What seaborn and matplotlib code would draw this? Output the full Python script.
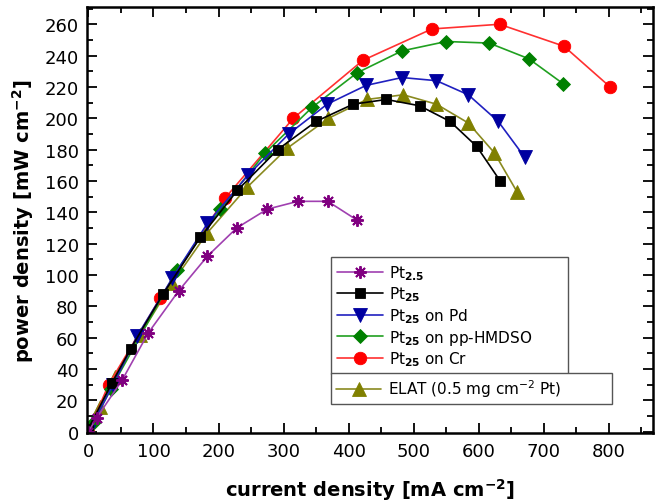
import matplotlib
matplotlib.use("Agg")
import matplotlib.pyplot as plt
import seaborn as sns
from matplotlib.ticker import MultipleLocator

sns.set_style("ticks")
plt.rcParams["font.family"] = ["DejaVu Sans"]
plt.rcParams["mathtext.fontset"] = "dejavusans"
plt.rcParams["text.color"] = "black"
plt.rcParams["axes.labelcolor"] = "black"
plt.rcParams["xtick.color"] = "black"
plt.rcParams["ytick.color"] = "black"
plt.rcParams["axes.edgecolor"] = "black"

# current density [mA cm-2] / power density [mW cm-2]
pt25_x = [0, 13, 52, 92, 139, 183, 228, 275, 322, 368, 413]
pt25_y = [0, 9, 33, 63, 90, 112, 130, 142, 147, 147, 135]

pt25b_x = [0, 36, 65, 115, 172, 229, 291, 350, 407, 458, 509, 556, 597, 633]
pt25b_y = [2, 31, 53, 88, 124, 154, 180, 198, 209, 212, 208, 198, 182, 160]

pd_x = [0, 38, 75, 129, 183, 246, 308, 367, 427, 482, 535, 584, 630, 671]
pd_y = [0, 30, 61, 98, 133, 164, 190, 209, 221, 226, 224, 215, 198, 175]

hmdso_x = [0, 8, 34, 136, 203, 272, 344, 413, 482, 550, 616, 677, 730]
hmdso_y = [0, 6, 27, 103, 142, 178, 207, 229, 243, 249, 248, 238, 222]

cr_x = [0, 31, 110, 210, 315, 422, 528, 632, 731, 802]
cr_y = [0, 30, 85, 149, 200, 237, 257, 260, 246, 220]

elat_x = [0, 18, 41, 80, 129, 183, 244, 306, 369, 428, 484, 535, 584, 624, 659]
elat_y = [0, 16, 35, 62, 95, 127, 156, 181, 200, 212, 215, 209, 197, 178, 153]

fig = plt.figure(figsize=(6.65, 5.02), dpi=100)
ax = fig.add_axes([0.131, 0.135, 0.851, 0.849])

common = dict(ax=ax, sort=False, estimator=None, linewidth=1.2,
              markeredgewidth=0.6)

sns.lineplot(x=elat_x, y=elat_y, color="#8a8a20", marker="^", markersize=10,
             markerfacecolor="#808000", markeredgecolor="#808000",
             label="ELAT (0.5 mg cm$^{-2}$ Pt)", **common)
sns.lineplot(x=cr_x, y=cr_y, color="#ff3030", marker="o", markersize=9,
             markerfacecolor="#ff0000", markeredgecolor="#ff0000",
             label=r"Pt$_{\mathbf{25}}$ on Cr", **common)
sns.lineplot(x=hmdso_x, y=hmdso_y, color="#20a020", marker="D", markersize=7,
             markerfacecolor="#008000", markeredgecolor="#008000",
             label=r"Pt$_{\mathbf{25}}$ on pp-HMDSO", **common)
sns.lineplot(x=pd_x, y=pd_y, color="#2020c0", marker="v", markersize=10,
             markerfacecolor="#0000a0", markeredgecolor="#0000a0",
             label=r"Pt$_{\mathbf{25}}$ on Pd", **common)
sns.lineplot(x=pt25b_x, y=pt25b_y, color="#000000", marker="s", markersize=7.5,
             markerfacecolor="#000000", markeredgecolor="#000000",
             label=r"Pt$_{\mathbf{25}}$", **common)
sns.lineplot(x=pt25_x, y=pt25_y, color="#a040b0", marker=(8, 2, 0),
             markersize=9, markerfacecolor="#800080",
             markeredgecolor="#800080", label=r"Pt$_{\mathbf{2.5}}$",
             ax=ax, sort=False, estimator=None, linewidth=1.2,
             markeredgewidth=1.4)

ax.set_xlim(-2, 868)
ax.set_ylim(-1, 271)
ax.xaxis.set_major_locator(MultipleLocator(100))
ax.xaxis.set_minor_locator(MultipleLocator(50))
ax.yaxis.set_major_locator(MultipleLocator(20))
ax.yaxis.set_minor_locator(MultipleLocator(10))
ax.tick_params(which="both", direction="in", top=True, right=True,
               labeltop=False, labelright=False, width=1.3)
ax.tick_params(which="major", length=7, labelsize=13, pad=6)
ax.tick_params(which="minor", length=4)
for s in ax.spines.values():
    s.set_linewidth(1.8)

ax.set_xlabel(r"current density [mA cm$^{\mathbf{-2}}$]", fontsize=14,
              fontweight="bold", labelpad=12)
ax.set_ylabel(r"power density [mW cm$^{\mathbf{-2}}$]", fontsize=14,
              fontweight="bold", labelpad=6)

handles, labels = ax.get_legend_handles_labels()
order = [5, 4, 3, 2, 1]
leg1 = ax.legend([handles[i] for i in order], [labels[i] for i in order],
                 loc="upper left", bbox_to_anchor=(0.431, 0.141, 0.419, 0.272),
                 mode="expand", fontsize=11, frameon=True, fancybox=False,
                 edgecolor="#555555", handlelength=3, labelspacing=0.18,
                 borderaxespad=0, borderpad=0.4, handletextpad=0.4,
                 framealpha=1)
leg1.get_frame().set_linewidth(1.0)
ax.add_artist(leg1)
leg2 = ax.legend([handles[0]], [labels[0]], loc="upper left",
                 bbox_to_anchor=(0.431, 0.068, 0.497, 0.073), mode="expand",
                 fontsize=11, frameon=True, fancybox=False,
                 edgecolor="#555555", handlelength=3, borderaxespad=0,
                 borderpad=0.3, handletextpad=0.4, framealpha=1)
leg2.get_frame().set_linewidth(1.0)

fig.savefig("out.png", dpi=100)
